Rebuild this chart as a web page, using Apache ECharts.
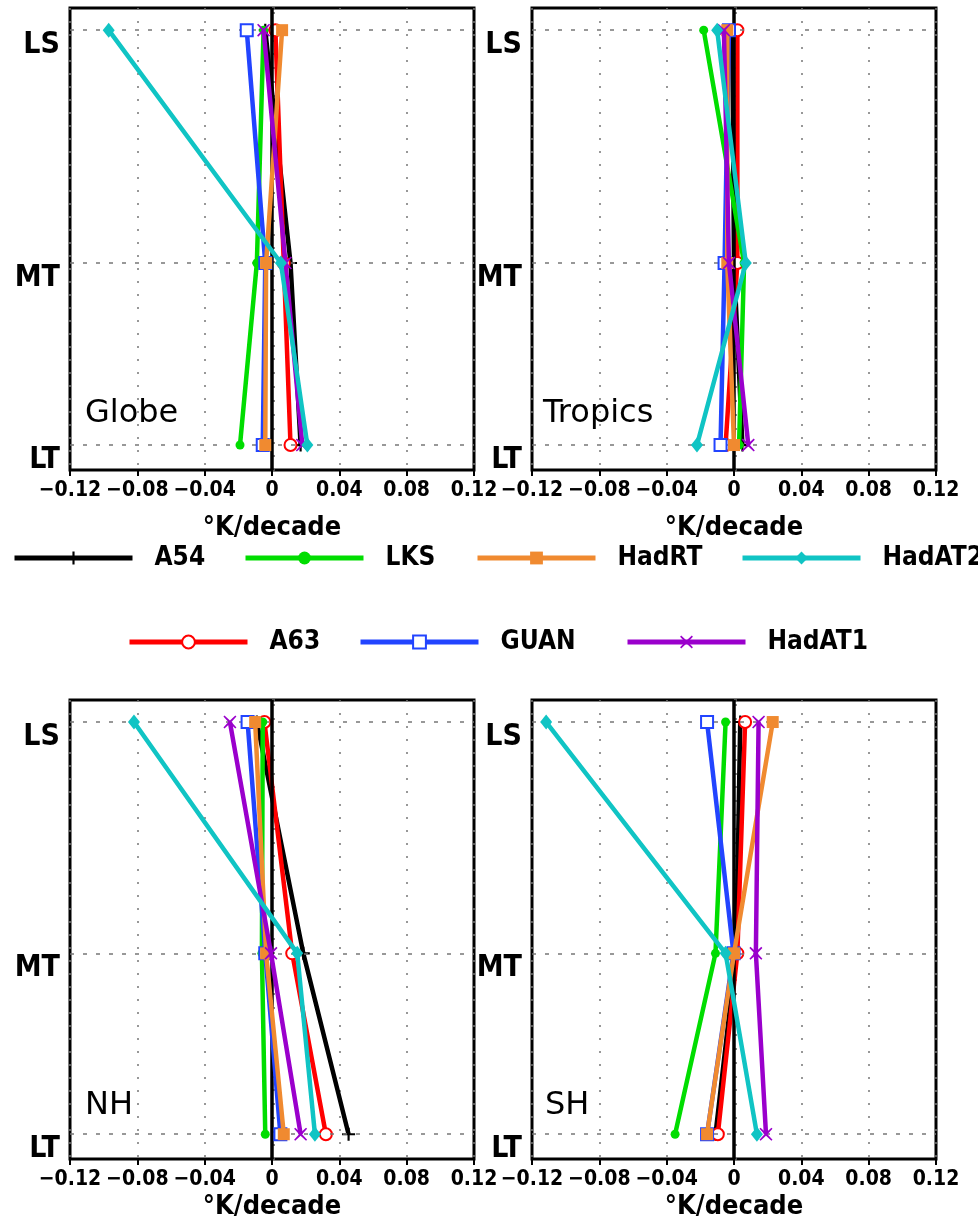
<!DOCTYPE html>
<html>
<head>
<meta charset="utf-8">
<script src="https://cdn.jsdelivr.net/npm/echarts@6/dist/echarts.min.js"></script>
<style>
  html, body { margin: 0; padding: 0; background: #fff; }
  #chart { width: 978px; height: 1221px; }
</style>
</head>
<body>
<div id="chart"></div>
<script>
// levels (bottom to top) and their heights on the vertical axis (0..100)
var levelNames = ['LT', 'MT', 'LS'];
var levelPos = [5.4, 44.8, 95.2];

var seriesNames = ['A54', 'LKS', 'HadRT', 'HadAT2', 'A63', 'GUAN', 'HadAT1'];
var seriesColors = ['#000000', '#00dd00', '#f08a30', '#10c4c4', '#ff0000', '#2244ff', '#9a00cc'];
var panelNames = ['Globe', 'Tropics', 'NH', 'SH'];
var xTicks = [-0.12, -0.08, -0.04, 0, 0.04, 0.08, 0.12];

// trends in K/decade, each row = [LT, MT, LS], rows in seriesNames order
var globeTrends = [
  [0.017, 0.011, -0.004],
  [-0.019, -0.009, -0.005],
  [-0.004, -0.0035, 0.006],
  [0.021, 0.0053, -0.097],
  [0.011, 0.007, 0.002],
  [-0.0055, -0.004, -0.015],
  [0.018, 0.008, -0.005]
];
var tropicsTrends = [
  [0.005, 0.000, -0.001],
  [0.003, 0.006, -0.018],
  [0.000, -0.004, -0.004],
  [-0.022, 0.007, -0.010],
  [-0.005, 0.002, 0.002],
  [-0.008, -0.0056, -0.003],
  [0.0085, -0.003, -0.006]
];
var nhTrends = [
  [0.0455, 0.0186, -0.009],
  [-0.004, -0.006, -0.0055],
  [0.007, -0.0035, -0.010],
  [0.0255, 0.015, -0.082],
  [0.032, 0.012, -0.0045],
  [0.005, -0.004, -0.0145],
  [0.017, -0.0006, -0.025]
];
var shTrends = [
  [-0.011, 0.0013, 0.0037],
  [-0.035, -0.011, -0.005],
  [-0.016, 0.000, 0.023],
  [0.0136, -0.005, -0.1116],
  [-0.0096, 0.002, 0.0066],
  [-0.016, -0.0003, -0.016],
  [0.019, 0.013, 0.0146]
];
var panelTrends = [globeTrends, tropicsTrends, nhTrends, shTrends];

var FONT = '"Liberation Sans Narrow", "DejaVu Sans Condensed", "Liberation Sans", sans-serif';

var plusPath = 'path://M-1,-6L1,-6L1,-1L6,-1L6,1L1,1L1,6L-1,6L-1,1L-6,1L-6,-1L-1,-1Z';
var crossPath = 'path://M-5,-6L0,-1.4L5,-6L6,-5L1.4,0L6,5L5,6L0,1.4L-5,6L-6,5L-1.4,0L-6,-5Z';
var seriesSymbols = [plusPath, 'circle', 'rect', 'diamond', 'emptyCircle', 'emptyRect', crossPath];
var symbolSizes = [13, 9, 12, [12, 15], 12, 12, 13];
// drawing order, cyan last
var drawOrder = [0, 4, 1, 5, 2, 6, 3];

var grids = [
  { left: 70, top: 8, width: 404, height: 462 },
  { left: 532, top: 8, width: 404, height: 462 },
  { left: 70, top: 700, width: 404, height: 461 },
  { left: 532, top: 700, width: 404, height: 461 }
];
var nameGaps = [44, 44, 34, 34];
var labelPos = [[85, 413], [543, 413], [85, 1105], [545, 1105]];

var option = {
  backgroundColor: '#fff',
  animation: false,
  grid: [],
  xAxis: [],
  yAxis: [],
  series: [],
  legend: [],
  graphic: []
};

for (var p = 0; p < 4; p++) {
  option.grid.push({
    left: grids[p].left, top: grids[p].top, width: grids[p].width, height: grids[p].height,
    show: true, borderColor: '#000', borderWidth: 3, backgroundColor: 'transparent'
  });
  option.xAxis.push({
    gridIndex: p, type: 'value', min: -0.12, max: 0.12, interval: 0.04,
    axisLine: { show: false },
    axisTick: { show: true, inside: false, length: 6, lineStyle: { color: '#000', width: 2 } },
    axisLabel: {
      margin: 10, fontFamily: FONT, fontSize: 21, fontWeight: 'bold', color: '#000',
      showMinLabel: true, showMaxLabel: true, hideOverlap: false, minMargin: 0,
      customValues: xTicks,
      formatter: function (v) {
        if (Math.abs(v) < 1e-9) return '0';
        return (v < 0 ? '\u2212' : '') + Math.abs(v).toFixed(2);
      }
    },
    splitLine: { show: true, lineStyle: { color: '#777', type: [2, 11], width: 1.5 } },
    name: '\u00b0K/decade', nameLocation: 'middle', nameGap: nameGaps[p],
    nameTextStyle: { fontFamily: FONT, fontSize: 27, fontWeight: 'bold', color: '#000' }
  });
  option.yAxis.push({
    gridIndex: p, type: 'value', min: 0, max: 100, interval: 3,
    axisLine: { show: false },
    axisTick: { show: true, inside: true, length: 3, lineStyle: { color: '#666', width: 1.5 } },
    axisLabel: {
      customValues: levelPos, margin: 10, verticalAlign: 'top',
      fontFamily: FONT, fontSize: 30, fontWeight: 'bold', color: '#000',
      formatter: function (v) {
        for (var i = 0; i < levelPos.length; i++) {
          if (Math.abs(v - levelPos[i]) < 1e-6) return levelNames[i];
        }
        return '';
      }
    },
    splitLine: { show: false }
  });

  // level guide lines and zero line
  var guides = [];
  for (var l = 0; l < levelPos.length; l++) {
    guides.push({ yAxis: levelPos[l], lineStyle: { color: '#777', type: [4, 9], width: 1.5 } });
  }
  guides.push({ xAxis: 0, lineStyle: { color: '#000', type: 'solid', width: 3.5 } });
  option.series.push({
    type: 'line', name: 'guide' + p, xAxisIndex: p, yAxisIndex: p, data: [], z: 1,
    silent: true,
    markLine: { silent: true, symbol: 'none', label: { show: false }, animation: false, data: guides }
  });

  var trends = panelTrends[p];
  for (var k = 0; k < drawOrder.length; k++) {
    var s = drawOrder[k];
    var pts = [];
    for (var j = 0; j < levelPos.length; j++) pts.push([trends[s][j], levelPos[j]]);
    var isEmpty = (s === 4 || s === 5);
    option.series.push({
      type: 'line', name: seriesNames[s], xAxisIndex: p, yAxisIndex: p, data: pts,
      z: 3 + k,
      symbol: seriesSymbols[s], symbolSize: symbolSizes[s], showAllSymbol: true,
      color: seriesColors[s],
      lineStyle: { color: seriesColors[s], width: 4.5 },
      itemStyle: isEmpty
        ? { color: seriesColors[s], borderColor: seriesColors[s], borderWidth: 3.5 }
        : { color: seriesColors[s], borderWidth: 0 },
      emphasis: { disabled: true }
    });
  }

  option.graphic.push({
    type: 'text', left: labelPos[p][0], top: labelPos[p][1] - 15,
    style: { text: panelNames[p], fontFamily: '"DejaVu Sans", sans-serif', fontSize: 32, fill: '#000' }
  });
}

// legend, one component per entry so each sits where the reference puts it
var legendSpots = [[12, 557], [243, 557], [475, 557], [740, 557], [127, 641], [358, 641], [625, 641]];
for (var i = 0; i < seriesNames.length; i++) {
  option.legend.push({
    data: [seriesNames[i]], left: legendSpots[i][0], top: legendSpots[i][1] - 12,
    itemWidth: 118, itemHeight: 16, selectedMode: false, padding: 0,
    lineStyle: { width: 5 },
    itemStyle: { borderWidth: 3 },
    textStyle: { fontFamily: FONT, fontSize: 26, fontWeight: 'bold', color: '#000', padding: [0, 0, 0, 17] }
  });
}

var chart = echarts.init(document.getElementById('chart'), null, { renderer: 'canvas' });
chart.setOption(option);
</script>
</body>
</html>
